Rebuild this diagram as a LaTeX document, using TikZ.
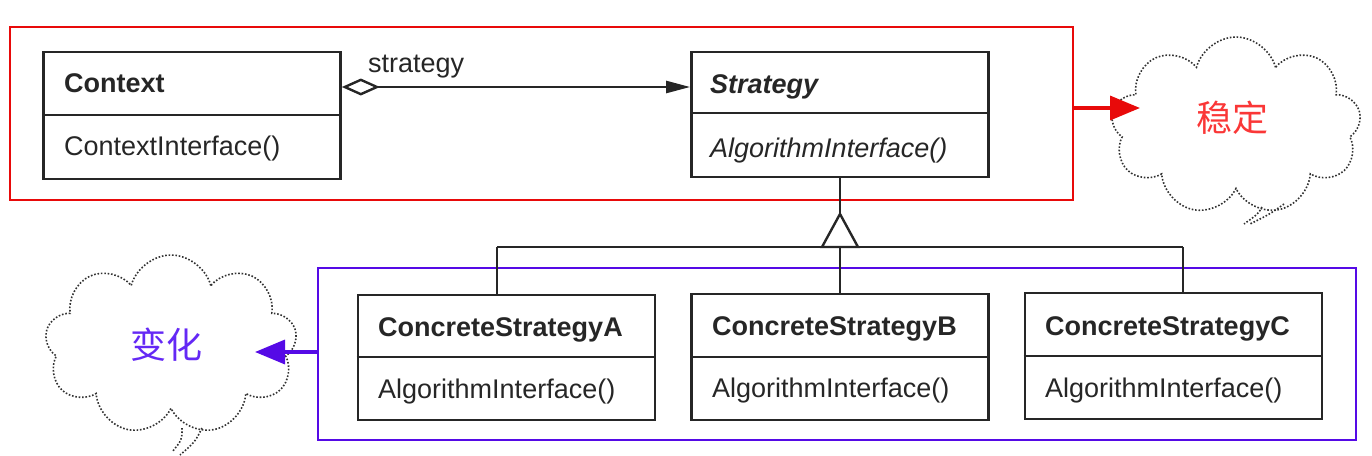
\documentclass[tikz,border=0pt]{standalone}
\usepackage{fontspec}
\setmainfont{Liberation Sans}
\newfontfamily\cjk{Noto Sans CJK SC}
\usetikzlibrary{arrows.meta,shapes.symbols}
\definecolor{ink}{RGB}{38,38,38}
\definecolor{redbox}{RGB}{232,10,10}
\definecolor{bluebox}{RGB}{85,10,230}
\definecolor{redtxt}{RGB}{250,55,55}
\definecolor{bluetxt}{RGB}{100,40,245}
\definecolor{cloudc}{RGB}{50,50,50}
\begin{document}
\begin{tikzpicture}[x=1pt,y=-1pt,
  cls/.style={draw=ink,line width=2.7pt,minimum width=297pt,inner sep=0pt},
  txt/.style={anchor=base west,inner sep=0pt,font=\fontsize{27}{30}\selectfont,text=ink},
  cloudnode/.style={cloud,cloud puffs=9,cloud ignores aspect,draw=cloudc,line width=1.6pt,dash pattern=on 1.6pt off 1.8pt,inner sep=0pt},
  tail/.style={draw=cloudc,line width=1.6pt,dash pattern=on 1.6pt off 1.8pt},
  grp/.style={line width=2.8pt,inner sep=0pt},
  conn/.style={draw=ink,line width=2.4pt},
  fat/.style={line width=3.5pt,-{Triangle[length=30pt,width=24pt]}}
]
\useasboundingbox (0,0) rectangle (1372,455);
% group boxes
\node[grp,draw=redbox,minimum width=1063pt,minimum height=173pt] (rbox) at (541.5,113.5) {};
\node[grp,draw=bluebox,minimum width=1038pt,minimum height=172pt] (bbox) at (837,354) {};
% classes
\node[cls,minimum height=127pt] (ctx) at (192,115.5) {};
\draw[conn,line width=2.7pt] (ctx.west |- 0,115) -- (ctx.east |- 0,115);
\node[txt,font=\fontsize{27}{30}\selectfont\bfseries] (ctxn) at (64,92) {Context};
\node[txt] (ctxm) at (64,155) {ContextInterface()};

\node[cls,minimum height=125pt] (strat) at (840,114.5) {};
\draw[conn,line width=2.7pt] (strat.west |- 0,113) -- (strat.east |- 0,113);
\node[txt,font=\fontsize{27}{30}\selectfont\bfseries\itshape] (stn) at (710,93) {Strategy};
\node[txt,font=\fontsize{27}{30}\selectfont\itshape] (stm) at (710,157) {AlgorithmInterface()};

\node[cls,minimum height=125pt] (A) at (506.5,357.5) {};
\draw[conn,line width=2.7pt] (A.west |- 0,357) -- (A.east |- 0,357);
\node[txt,font=\fontsize{27}{30}\selectfont\bfseries] (An) at (378,336) {ConcreteStrategyA};
\node[txt] (Am) at (378,398) {AlgorithmInterface()};

\node[cls,minimum height=126pt] (B) at (840,357) {};
\draw[conn,line width=2.7pt] (B.west |- 0,357) -- (B.east |- 0,357);
\node[txt,font=\fontsize{27}{30}\selectfont\bfseries] (Bn) at (712,335) {ConcreteStrategyB};
\node[txt] (Bm) at (712,397) {AlgorithmInterface()};

\node[cls,minimum height=126pt] (C) at (1173.5,356) {};
\draw[conn,line width=2.7pt] (C.west |- 0,356) -- (C.east |- 0,356);
\node[txt,font=\fontsize{27}{30}\selectfont\bfseries] (Cn) at (1045,335) {ConcreteStrategyC};
\node[txt] (Cm) at (1045,397) {AlgorithmInterface()};

% association
\draw[conn,{Diamond[open,length=38pt,width=17pt,line width=2.4pt]}-{Triangle[length=24pt,width=12pt]}] (ctx.east |- 0,87) -- (strat.west |- 0,87);
\node[txt] (lab) at (368,72) {strategy};

% inheritance
\coordinate (apex) at (840,214);
\coordinate (jA) at (497,247);
\coordinate (jB) at (840,247);
\coordinate (jC) at (1183,247);
\draw[conn] (strat.south) -- (apex);
\draw[conn,line join=miter] (apex) -- (822,247) -- (858,247) -- cycle;
\draw[conn] (jA) -- (jC);
\draw[conn] (jA) -- (jA |- A.north);
\draw[conn] (jB) -- (jB |- B.north);
\draw[conn] (jC) -- (jC |- C.north);

% clouds
\node[cloudnode,minimum width=250pt,minimum height=178pt] (cl1) at (1236,126) {};
\draw[tail] (1262,207) .. controls (1258,214) .. (1244,224);
\draw[tail] (1284,204) .. controls (1270,214) .. (1250,224);
\node[inner sep=0pt,text=redtxt,font=\cjk\fontsize{36}{40}\selectfont] (t1) at (1232,118) {稳定};

\node[cloudnode,minimum width=252pt,minimum height=180pt] (cl2) at (171,345) {};
\draw[tail] (182,428) .. controls (182,440) .. (172,452);
\draw[tail] (202,428) .. controls (195,442) .. (180,455);
\node[inner sep=0pt,text=bluetxt,font=\cjk\fontsize{36}{40}\selectfont] (t2) at (166,345) {变化};

% arrows
\coordinate (rt) at (1140,108);
\coordinate (bt) at (255,352);
\draw[fat,draw=redbox,fill=redbox] (rbox.east |- rt) -- (rt);
\draw[fat,draw=bluebox,fill=bluebox] (bbox.west |- bt) -- (bt);
\end{tikzpicture}
\end{document}
